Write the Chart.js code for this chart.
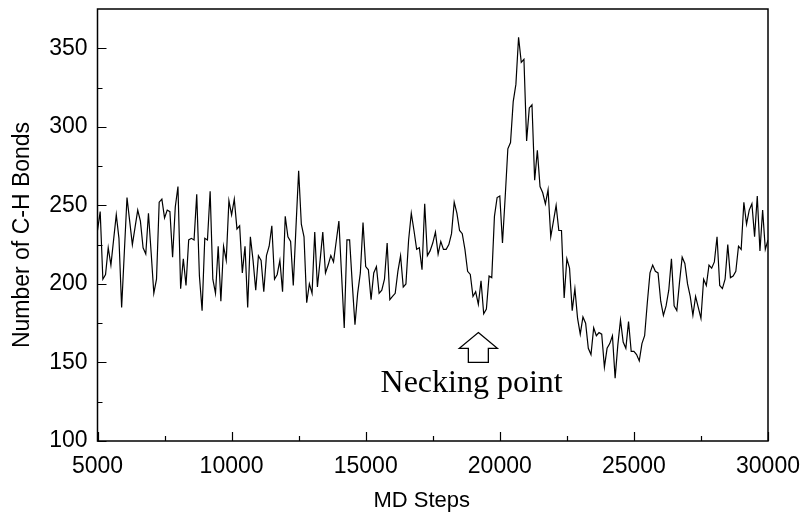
<!DOCTYPE html>
<html>
<head>
<meta charset="utf-8">
<script src="https://cdn.jsdelivr.net/npm/chart.js@4.4.1/dist/chart.umd.min.js"></script>
<style>
  html, body { margin: 0; padding: 0; background: #fff; }
  #wrap { width: 804px; height: 516px; }
</style>
</head>
<body>
<div id="wrap"><canvas id="c" width="804" height="516"></canvas></div>
<script>
// ---- data ----
const stepStart = 5000;
const stepSize = 100;
const bondCounts = [
  234, 246, 203, 206, 223, 212, 228, 244, 229, 185,
  220, 255, 240, 225, 236, 247, 240, 223, 219, 245,
  220, 194, 203, 252, 254, 242, 247, 246, 217, 249,
  262, 197, 216, 199, 228, 229, 228, 257, 205, 183,
  229, 228, 259, 203, 194, 224, 189, 224, 215, 253,
  244, 254, 235, 237, 207, 224, 185, 230, 215, 196,
  218, 215, 195, 218, 224, 237, 203, 206, 215, 195,
  243, 230, 227, 199, 236, 272, 238, 230, 188, 200,
  194, 233, 198, 215, 233, 207, 212, 218, 214, 227,
  240, 206, 172, 228, 228, 200, 174, 194, 207, 239,
  211, 209, 190, 207, 211, 194, 196, 203, 226, 190,
  192, 194, 208, 218, 198, 200, 228, 245, 234, 222,
  223, 209, 251, 218, 221, 226, 233, 219, 227, 222,
  222, 225, 232, 252, 245, 234, 232, 222, 208, 206,
  192, 195, 187, 202, 181, 184, 205, 204, 243, 255,
  256, 226, 255, 286, 290, 316, 327, 357, 341, 343,
  291, 312, 314, 266, 285, 262, 258, 251, 260, 230,
  240, 250, 234, 234, 191, 216, 210, 183, 197, 178,
  168, 179, 175, 159, 155, 172, 167, 169, 168, 147,
  159, 162, 167, 140, 161, 177, 163, 159, 176, 157,
  157, 155, 151, 162, 167, 188, 207, 212, 208, 207,
  189, 180, 186, 196, 216, 186, 183, 201, 217, 213,
  200, 192, 180, 192, 185, 178, 203, 199, 212, 210,
  214, 230, 199, 197, 203, 225, 204, 205, 208, 224,
  222, 252, 238, 247, 251, 230, 256, 221, 247, 222,
  228
];
const mdSteps = bondCounts.map((_, i) => stepStart + i * stepSize);

const xTickValues = [5000, 10000, 15000, 20000, 25000, 30000];
const xMinorValues = [7500, 12500, 17500, 22500, 27500];
const yTickValues = [100, 150, 200, 250, 300, 350];
const yMinorValues = [125, 175, 225, 275, 325];
const xRange = [5000, 30000];
const yRange = [100, 375];

const xTitle = "MD Steps";
const yTitle = "Number of C-H Bonds";
const noteText = "Necking point";
const noteArrow = { x: 19200, tip: 169, base: 159, bottom: 150 };
const noteLabel = { x: 18950, y: 131 };

// ---- plugin: frame, inward ticks, axis titles, annotation ----
const framePlugin = {
  id: 'frame',
  afterDraw(chart) {
    const { ctx, chartArea: a, scales: { x, y } } = chart;
    ctx.save();
    ctx.strokeStyle = '#000';
    ctx.lineWidth = 1.5;
    ctx.strokeRect(a.left, a.top, a.right - a.left, a.bottom - a.top);
    ctx.lineWidth = 1.2;
    ctx.beginPath();
    xTickValues.forEach(v => { const p = Math.round(x.getPixelForValue(v)) + 0.5; ctx.moveTo(p, a.bottom); ctx.lineTo(p, a.bottom - 9); });
    xMinorValues.forEach(v => { const p = Math.round(x.getPixelForValue(v)) + 0.5; ctx.moveTo(p, a.bottom); ctx.lineTo(p, a.bottom - 5); });
    yTickValues.forEach(v => { const p = Math.round(y.getPixelForValue(v)) + 0.5; ctx.moveTo(a.left, p); ctx.lineTo(a.left + 9, p); });
    yMinorValues.forEach(v => { const p = Math.round(y.getPixelForValue(v)) + 0.5; ctx.moveTo(a.left, p); ctx.lineTo(a.left + 5, p); });
    ctx.stroke();

    // axis titles (placed slightly off-centre, as in the original figure)
    ctx.fillStyle = '#000';
    ctx.textAlign = 'center';
    ctx.textBaseline = 'middle';
    ctx.font = '22px "Liberation Sans", Arial, sans-serif';
    ctx.fillText(xTitle, (a.left + a.right) / 2 - 11, 501);
    ctx.save();
    ctx.translate(23, (a.top + a.bottom) / 2 + 10);
    ctx.rotate(-Math.PI / 2);
    ctx.font = '23px "Liberation Sans", Arial, sans-serif';
    ctx.fillText(yTitle, 0, 0);
    ctx.restore();

    // hollow up arrow
    const ax = x.getPixelForValue(noteArrow.x);
    const tip = y.getPixelForValue(noteArrow.tip);
    const base = y.getPixelForValue(noteArrow.base);
    const bottom = y.getPixelForValue(noteArrow.bottom);
    const hw = 19, sw = 10;
    ctx.lineWidth = 1.3;
    ctx.beginPath();
    ctx.moveTo(ax, tip);
    ctx.lineTo(ax + hw, base);
    ctx.lineTo(ax + sw, base);
    ctx.lineTo(ax + sw, bottom);
    ctx.lineTo(ax - sw, bottom);
    ctx.lineTo(ax - sw, base);
    ctx.lineTo(ax - hw, base);
    ctx.closePath();
    ctx.fillStyle = '#fff';
    ctx.fill();
    ctx.stroke();

    ctx.fillStyle = '#000';
    ctx.font = '32px "Liberation Serif", serif';
    ctx.textAlign = 'center';
    ctx.textBaseline = 'alphabetic';
    ctx.fillText(noteText, x.getPixelForValue(noteLabel.x), y.getPixelForValue(noteLabel.y));
    ctx.restore();
  }
};

Chart.defaults.font.family = '"Liberation Sans", Arial, sans-serif';
Chart.defaults.color = '#000';

new Chart(document.getElementById('c'), {
  type: 'line',
  data: {
    datasets: [{
      data: mdSteps.map((s, i) => ({ x: s, y: bondCounts[i] })),
      borderColor: '#000',
      borderWidth: 1.2,
      pointRadius: 0,
      tension: 0,
      fill: false
    }]
  },
  options: {
    responsive: false,
    animation: false,
    devicePixelRatio: 1,
    layout: { padding: { top: 9, right: 36, left: 0, bottom: 0 } },
    plugins: { legend: { display: false }, tooltip: { enabled: false } },
    scales: {
      x: {
        type: 'linear',
        min: xRange[0], max: xRange[1],
        afterBuildTicks: s => { s.ticks = xTickValues.map(v => ({ value: v })); },
        afterFit: s => { s.height = 75; s.paddingLeft = 0; s.paddingRight = 0; },
        grid: { display: false, drawTicks: false },
        border: { display: false },
        ticks: { padding: 12, maxRotation: 0, font: { size: 23 }, color: '#000', callback: v => String(v) },
        title: { display: false }
      },
      y: {
        type: 'linear',
        min: yRange[0], max: yRange[1],
        afterBuildTicks: s => { s.ticks = yTickValues.map(v => ({ value: v })); },
        afterFit: s => { s.width = 97.5; s.paddingTop = 0; s.paddingBottom = 0; },
        grid: { display: false, drawTicks: false },
        border: { display: false },
        ticks: { padding: 10, font: { size: 23 }, color: '#000' },
        title: { display: false }
      }
    }
  },
  plugins: [framePlugin]
});
</script>
</body>
</html>
